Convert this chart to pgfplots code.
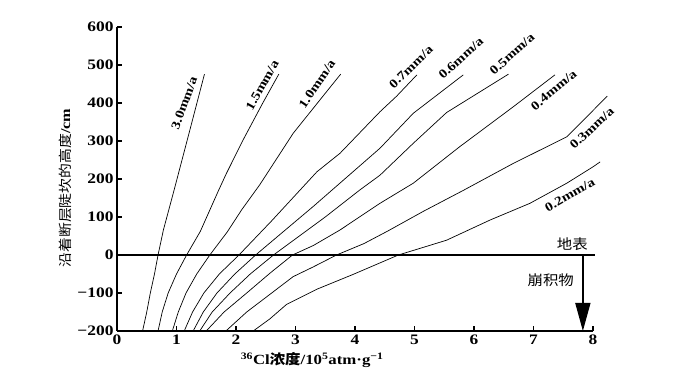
\documentclass[border=0pt]{standalone}
\usepackage{pgfplots}
\pgfplotsset{compat=1.18}
\usetikzlibrary{arrows.meta}
\usepackage{fontspec}
\setmainfont{Liberation Serif}[FakeStretch=1.2]
\newfontfamily\cjk{Noto Sans CJK SC}[FakeStretch=1.1]

\pgfplotstableread{
x y
0.43 -200
0.50 -150
0.56 -100
0.63 -50
0.69 0
0.78 66
0.96 171
1.24 338
1.47 476
}\tThree
\pgfplotstableread{
x y
0.69 -200
0.76 -150
0.86 -100
1.00 -50
1.17 0
1.40 62
1.71 171
1.84 215
2.12 303
2.45 400
2.72 476
}\tOneFive
\pgfplotstableread{
x y
0.93 -200
1.03 -150
1.16 -100
1.34 -50
1.56 0
1.85 60
2.10 120
2.40 185
2.96 320
3.41 408
3.76 476
}\tOne
\pgfplotstableread{
x y
1.13 -200
1.27 -150
1.46 -100
1.72 -50
2.05 0
2.60 90
3.36 219
3.75 268
4.42 377
4.70 418
5.04 474
}\tSeven
\pgfplotstableread{
x y
1.28 -200
1.45 -150
1.68 -100
1.98 -50
2.33 0
3.30 128
4.42 281
4.98 373
5.82 474
}\tSix
\pgfplotstableread{
x y
1.39 -200
1.60 -150
1.90 -100
2.24 -50
2.63 0
3.50 100
4.08 171
4.42 210
4.98 294
5.54 375
6.58 476
}\tFive
\pgfplotstableread{
x y
1.50 -200
1.80 -150
2.18 -100
2.57 -48
2.95 0
3.30 25
3.75 66
4.42 136
4.98 189
5.76 285
6.66 390
7.36 474
}\tFour
\pgfplotstableread{
x y
1.83 -200
2.18 -150
2.60 -100
2.96 -57
3.29 -32
3.69 0
4.15 30
4.55 63
5.15 115
5.82 170
6.66 241
7.56 311
8.24 418
}\tThreeT
\pgfplotstableread{
x y
2.29 -200
2.57 -168
2.85 -130
3.36 -90
3.97 -51
4.73 0
5.54 39
6.27 92
6.94 136
7.56 189
8.00 232
8.12 245
}\tTwo

\begin{document}
\begin{tikzpicture}
\path[use as bounding box] (-117pt,-48pt) rectangle (568pt,331pt);
\begin{axis}[
  at={(0,0)}, anchor=south west,
  scale only axis, width=476pt, height=304pt,
  xmin=0, xmax=8, ymin=-200, ymax=600,
  axis lines=left,
  axis line style={-, line width=1.6pt},
  xtick={0,1,...,8}, ytick={-200,-100,...,600},
  yticklabels={−200,−100,0,100,200,300,400,500,600},
  tick style={line width=1.6pt, black},
  major tick length=5pt, tick align=inside,
  /pgf/number format/assume math mode=true,
  ticklabel style={font=\bfseries\fontsize{14.5}{14.5}\selectfont},
  clip=false,
  xlabel={\bfseries\textsuperscript{36}Cl{\cjk 浓度}/10\textsuperscript{5}atm·g\textsuperscript{−1}},
  xlabel style={at={(rel axis cs:0.41,0)}, yshift=-29pt, anchor=center, font=\fontsize{14}{14}\selectfont},
  ylabel={{\cjk 沿着断层陡坎的高度}\bfseries/cm},
  ylabel style={at={(rel axis cs:0,0.47)}, yshift=52pt, anchor=center, font=\fontsize{13.5}{13.5}\selectfont},
]
\addplot[black, line width=0.7pt] table {\tThree};
\addplot[black, line width=0.7pt] table {\tOneFive};
\addplot[black, line width=0.7pt] table {\tOne};
\addplot[black, line width=0.7pt] table {\tSeven};
\addplot[black, line width=0.7pt] table {\tSix};
\addplot[black, line width=0.7pt] table {\tFive};
\addplot[black, line width=0.7pt] table {\tFour};
\addplot[black, line width=0.7pt] table {\tThreeT};
\addplot[black, line width=0.7pt] table {\tTwo};
\addplot[black, line width=1.6pt] coordinates {(0,0) (8.03,0)};
\addplot[black, line width=1.5pt, -{Triangle[width=15pt,length=28pt]}] coordinates {(7.83,0) (7.83,-200)};

\begin{scope}[every node/.style={font=\bfseries\fontsize{12.5}{12.5}\selectfont, inner sep=0pt}]
\node[rotate=70] at (axis cs:1.13,400) {3.0mm/a};
\node[rotate=61] at (axis cs:2.44,447) {1.5mm/a};
\node[rotate=56] at (axis cs:3.36,450) {1.0mm/a};
\node[rotate=44] at (axis cs:4.94,495) {0.7mm/a};
\node[rotate=42] at (axis cs:5.78,518) {0.6mm/a};
\node[rotate=42] at (axis cs:6.64,529) {0.5mm/a};
\node[rotate=40] at (axis cs:7.34,434) {0.4mm/a};
\node[rotate=43] at (axis cs:7.98,334) {0.3mm/a};
\node[rotate=30] at (axis cs:7.61,158) {0.2mm/a};
\end{scope}
\node[anchor=south east, font=\cjk\fontsize{14}{14}\selectfont, yshift=1pt] at (axis cs:7.97,0) {地表};
\node[font=\cjk\fontsize{14}{14}\selectfont] at (axis cs:7.29,-66) {崩积物};
\end{axis}
\end{tikzpicture}
\end{document}
